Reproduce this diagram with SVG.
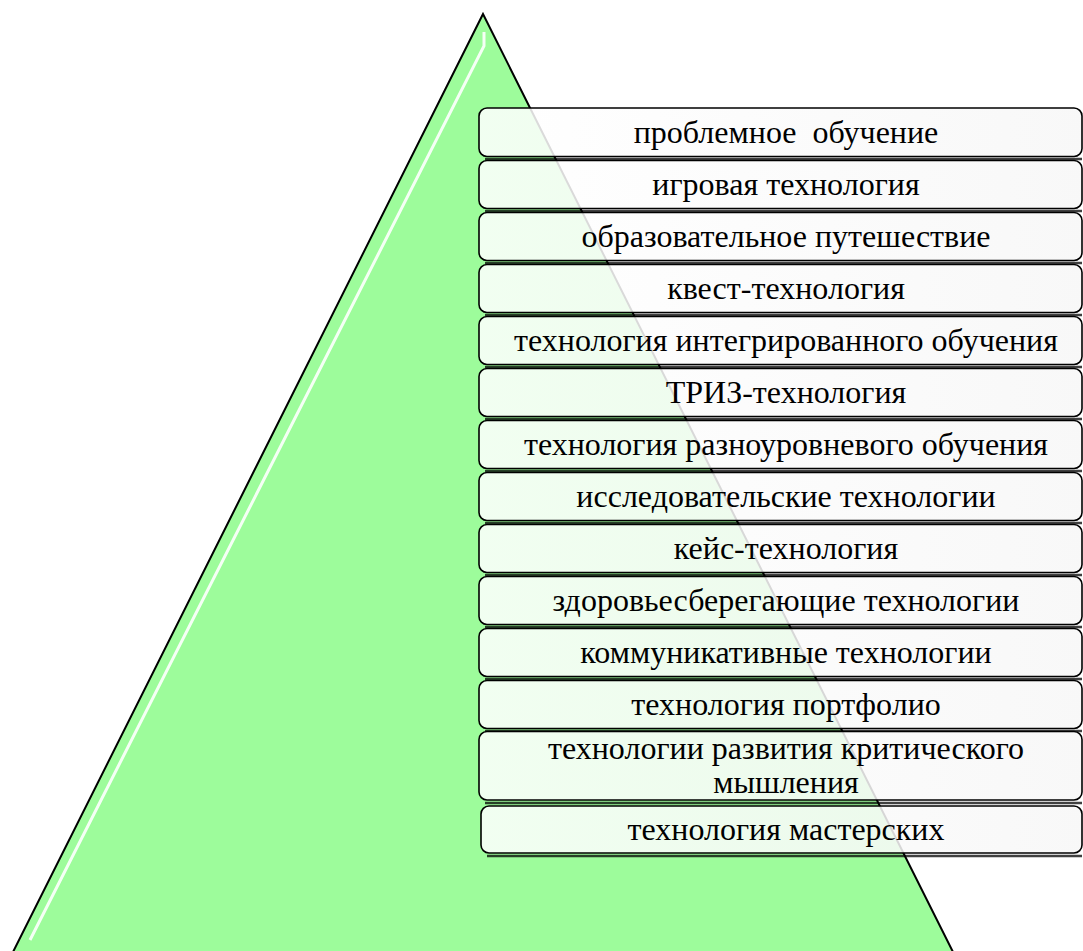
<svg xmlns="http://www.w3.org/2000/svg" width="1083" height="951" viewBox="0 0 1083 951">
<defs>
<style>
.box{fill:url(#bg);fill-opacity:0.86;stroke:#000;stroke-width:1.6}
.sh{stroke:#000;stroke-opacity:0.75;stroke-width:2.4;fill:none}
</style>
<linearGradient id="bg" x1="0" y1="0" x2="1" y2="0">
<stop offset="0" stop-color="#ffffff"/>
<stop offset="1" stop-color="#f7f7f7"/>
</linearGradient>
</defs>
<rect width="1083" height="951" fill="#fff"/>
<g id="pyramid">
<polygon points="483,14 13,952 953,952" fill="#9dfc9b" stroke="#000" stroke-width="2"/>
<polyline points="484,32 484,46 30,940" fill="none" stroke="#fff" stroke-width="3" stroke-opacity="0.9"/>
</g>
<g id="connectors"></g>
<g font-family="Liberation Serif, serif" font-size="32" text-anchor="middle" fill="#000">
<g id="n1"><path class="sh" d="M485,159H1082"/><rect class="box" x="479" y="108" width="603" height="48.5" rx="8"/><text x="786" y="143" xml:space="preserve" style="white-space:pre">проблемное  обучение</text></g>
<g id="n2"><path class="sh" d="M485,211H1082"/><rect class="box" x="479" y="160.5" width="603" height="48" rx="8"/><text x="786" y="195">игровая технология</text></g>
<g id="n3"><path class="sh" d="M485,263H1082"/><rect class="box" x="479" y="212.5" width="603" height="48" rx="8"/><text x="786" y="247">образовательное путешествие</text></g>
<g id="n4"><path class="sh" d="M485,315H1082"/><rect class="box" x="479" y="264.5" width="603" height="48" rx="8"/><text x="786" y="299">квест-технология</text></g>
<g id="n5"><path class="sh" d="M485,367H1082"/><rect class="box" x="479" y="316.5" width="603" height="48" rx="8"/><text x="786" y="351">технология интегрированного обучения</text></g>
<g id="n6"><path class="sh" d="M485,419H1082"/><rect class="box" x="479" y="368.5" width="603" height="48" rx="8"/><text x="786" y="403">ТРИЗ-технология</text></g>
<g id="n7"><path class="sh" d="M485,471H1082"/><rect class="box" x="479" y="420.5" width="603" height="48" rx="8"/><text x="786" y="455">технология разноуровневого обучения</text></g>
<g id="n8"><path class="sh" d="M485,523H1082"/><rect class="box" x="479" y="472.5" width="603" height="48" rx="8"/><text x="786" y="507">исследовательские технологии</text></g>
<g id="n9"><path class="sh" d="M485,575H1082"/><rect class="box" x="479" y="524.5" width="603" height="48" rx="8"/><text x="786" y="559">кейс-технология</text></g>
<g id="n10"><path class="sh" d="M485,627H1082"/><rect class="box" x="479" y="576.5" width="603" height="48" rx="8"/><text x="786" y="611">здоровьесберегающие технологии</text></g>
<g id="n11"><path class="sh" d="M485,679H1082"/><rect class="box" x="479" y="628.5" width="603" height="48" rx="8"/><text x="786" y="663">коммуникативные технологии</text></g>
<g id="n12"><path class="sh" d="M485,731H1082"/><rect class="box" x="479" y="680.5" width="603" height="48" rx="8"/><text x="786" y="715">технология портфолио</text></g>
<g id="n13"><path class="sh" d="M485,803H1082"/><rect class="box" x="479" y="731.5" width="603" height="68.5" rx="8"/><text x="786" y="759">технологии развития критического</text><text x="786" y="793">мышления</text></g>
<g id="n14"><path class="sh" d="M487,856H1082"/><rect class="box" x="481" y="806" width="601" height="47" rx="8"/><text x="786" y="840">технология мастерских</text></g>
</g>
</svg>
